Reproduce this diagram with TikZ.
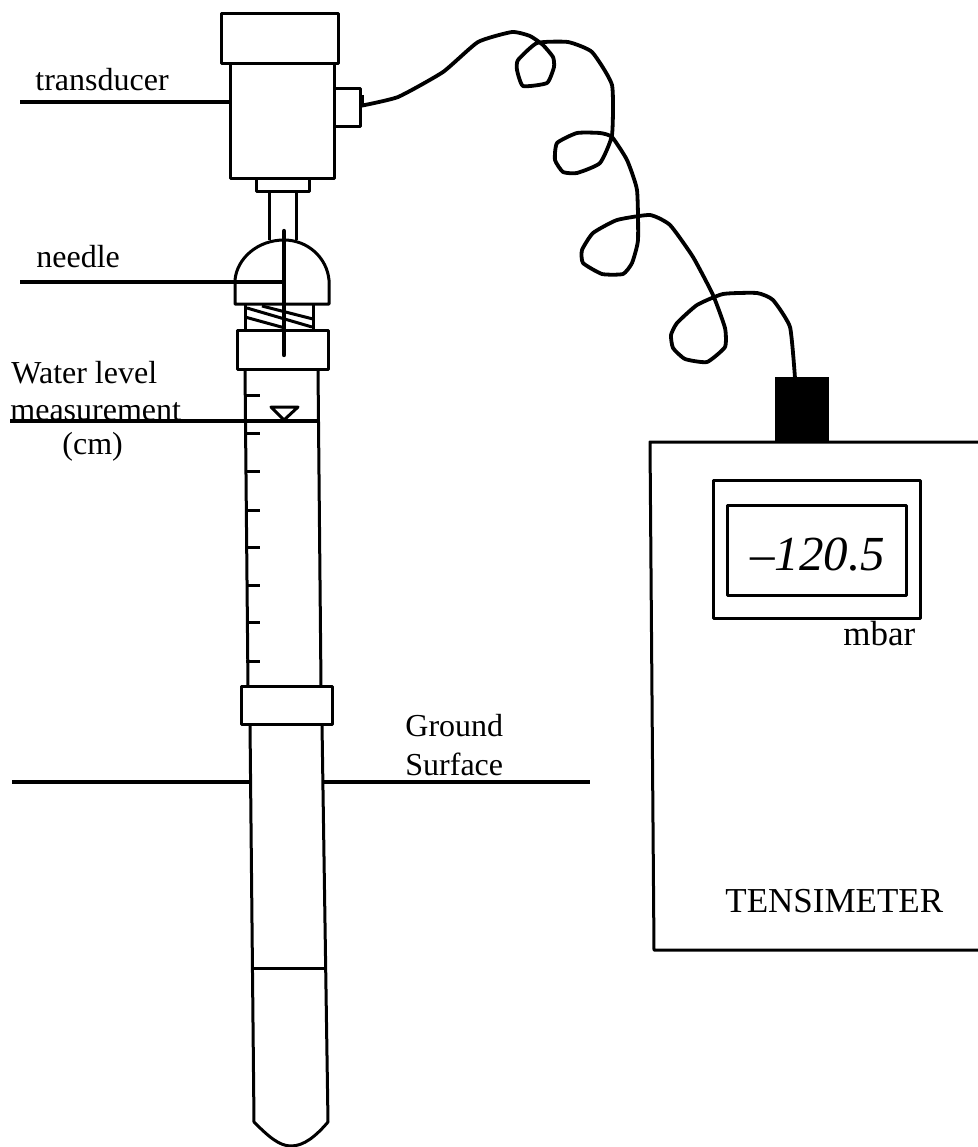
\documentclass[tikz,border=0pt]{standalone}
\usepackage{fontspec}
\setmainfont{Liberation Serif}
\tikzset{
  part/.style={line width=1.5pt, line join=round},
  leader/.style={line width=1.6pt},
  tick/.style={line width=1.5pt},
  lbl/.style={inner sep=0pt, anchor=base west, font=\fontsize{16}{18}\selectfont},
  lblbig/.style={inner sep=0pt, anchor=base west, font=\fontsize{17.5}{20}\selectfont}
}
\begin{document}
\begin{tikzpicture}[x=0.5pt, y=-0.5pt]
   \useasboundingbox (0,0) rectangle (978,1147);
   % transducer head
   \draw[part] (221,13) rectangle (338,63);
   \draw[part] (230,63) rectangle (334,178);
   \draw[part] (334,88) rectangle (360,126);
   \fill (360,95) rectangle (364,107);
   \draw[part] (256,178) rectangle (309,191);
   \draw[part] (269,191) -- (269,240);
   \draw[part] (296,191) -- (296,240);
   % cap and thread
   \draw[part] (235,304) -- (235,280) .. controls (237,258) and (258,240) .. (284,240)
      .. controls (308,240) and (327,258) .. (329,280) -- (329,304) -- cycle;
   \draw[part] (245,304) -- (245,330);
   \draw[part] (313,304) -- (313,330);
   \draw[part] (247,308) -- (312,327);
   \draw[part] (245,317) -- (285,328);
   \draw[part] (262,306) -- (313,319);
   \draw[part] (237,330) rectangle (328,369);
   \draw[line width=2.2pt, line cap=round] (284,231) -- (284,355);
   % tube
   \draw[part] (245,369) -- (248,686);
   \draw[part] (318,369) -- (321,686);
   \foreach \y in {395,433,471,510,547,585,622,661}
     \draw[tick] (246,\y) -- (260,\y);
   \draw[part] (271,407) -- (298,407) -- (284,420) -- cycle;
   \draw[part] (241,686) rectangle (332,724);
   \draw[part] (250,724) -- (254,1122) .. controls (268,1136) and (279,1146) .. (291,1146)
      .. controls (304,1146) and (316,1136) .. (328,1122) -- (322,724);
   \draw[part] (253,968) -- (325,968);
   % leaders
   \coordinate (transducerend) at (20,102);
   \coordinate (needleend) at (20,282);
   \coordinate (waterend) at (10,421);
   \draw[leader] (transducerend) -- (230,102);
   \draw[leader] (needleend) -- (284,282);
   \draw[leader] (waterend) -- (318,421);
   \draw[leader] (12,782) -- (250,782);
   \draw[leader] (323,782) -- (590,782);
   % tensimeter
   \draw[part] (978,442) -- (650,442) -- (654,950) -- (978,950);
   \draw[part] (713,480) rectangle (920,618);
   \draw[part] (727,505) rectangle (906,595);
   \fill (775,377) rectangle (829,442);
   % cable
   \draw[line width=1.9pt, line join=round] plot[smooth, tension=0.3] coordinates {
     (360,106) (398,97) (443,72) (478,42) (512,32) (530,36) (543,45) (553,57) (554,67)
     (547,83) (523,86) (517,70) (518,60) (537,43) (568,42) (592,52) (612,85) (612,135)
     (600,163) (577,173) (563,172) (555,160) (557,143) (577,133) (600,133) (612,137)
     (627,160) (637,190) (638,240) (632,263) (623,274) (602,274) (583,263) (582,250)
     (593,233) (617,220) (650,215) (670,225) (693,257) (713,295) (725,328) (725,347)
     (707,362) (685,359) (673,348) (671,335) (677,323) (697,305) (723,294) (757,293)
     (773,300) (790,327) (795,378)};
   % labels
   \node[lbl] (transducer) at (35,90) {transducer};
   \node[lbl] (needle) at (36,267) {needle};
   \node[lbl] (water) at (11,383) {Water level};
   \node[lbl] (measurement) at (10,420) {measurement};
   \node[lbl] (unit) at (62,454) {(cm)};
   \node[lbl] (ground) at (405,736) {Ground};
   \node[lbl] (surface) at (405,775) {Surface};
   \node[inner sep=0pt, anchor=base west, font=\fontsize{24.5}{26}\selectfont\itshape] (reading) at (750,570) {–120.5};
   \node[lblbig] (mbar) at (843,645) {mbar};
   \node[lblbig] (name) at (725,912) {TENSIMETER};
\end{tikzpicture}
\end{document}
